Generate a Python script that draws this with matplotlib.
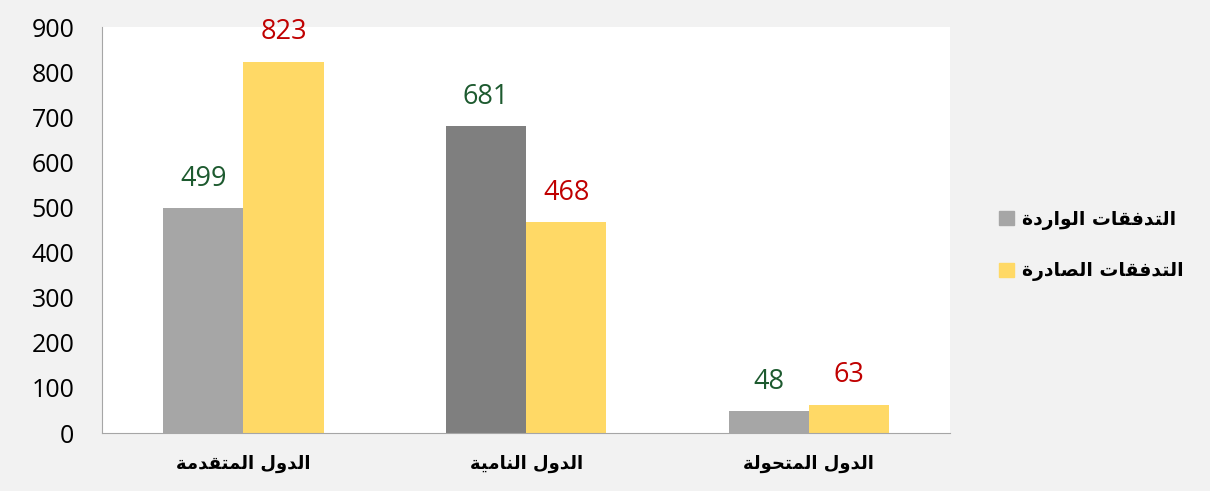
import matplotlib.pyplot as plt
from matplotlib.patches import Patch
import numpy as np

# data
categories = ['الدول المتقدمة', 'الدول النامية', 'الدول المتحولة']
inflows = [499, 681, 48]
outflows = [823, 468, 63]
series_names = ['التدفقات الواردة', 'التدفقات الصادرة']
yticks = [0, 100, 200, 300, 400, 500, 600, 700, 800, 900]

# matplotlib does no arabic shaping, so map letters to presentation forms
FORMS = {
    'ا': ('\uFE8D', '\uFE8E', None, None),
    'ت': ('\uFE95', '\uFE96', '\uFE97', '\uFE98'),
    'ة': ('\uFE93', '\uFE94', None, None),
    'ح': ('\uFEA1', '\uFEA2', '\uFEA3', '\uFEA4'),
    'د': ('\uFEA9', '\uFEAA', None, None),
    'ر': ('\uFEAD', '\uFEAE', None, None),
    'ص': ('\uFEB9', '\uFEBA', '\uFEBB', '\uFEBC'),
    'ف': ('\uFED1', '\uFED2', '\uFED3', '\uFED4'),
    'ق': ('\uFED5', '\uFED6', '\uFED7', '\uFED8'),
    'ل': ('\uFEDD', '\uFEDE', '\uFEDF', '\uFEE0'),
    'م': ('\uFEE1', '\uFEE2', '\uFEE3', '\uFEE4'),
    'ن': ('\uFEE5', '\uFEE6', '\uFEE7', '\uFEE8'),
    'و': ('\uFEED', '\uFEEE', None, None),
    'ي': ('\uFEF1', '\uFEF2', '\uFEF3', '\uFEF4'),
}


def joins_next(c):
    return c in FORMS and FORMS[c][2] is not None


def shape(text):
    out = []
    for i, c in enumerate(text):
        if c not in FORMS:
            out.append(c)
            continue
        prev = text[i - 1] if i > 0 else ''
        nxt = text[i + 1] if i + 1 < len(text) else ''
        from_prev = joins_next(prev)
        to_next = joins_next(c) and nxt in FORMS
        iso, fin, ini, med = FORMS[c]
        if from_prev and to_next:
            out.append(med)
        elif from_prev:
            out.append(fin)
        elif to_next:
            out.append(ini)
        else:
            out.append(iso)
    return ''.join(out)[::-1]


plt.rcParams['font.family'] = ['Open Sans', 'DejaVu Sans']

fig = plt.figure(figsize=(12.1, 4.91), dpi=100)
fig.patch.set_facecolor('#f2f2f2')
ax = fig.add_axes([0.0843, 0.118, 0.701, 0.827])
ax.set_facecolor('white')

x = np.arange(len(categories))
w = 0.284
in_colors = ['#a6a6a6', '#7f7f7f', '#a6a6a6']
ax.bar(x - w / 2, inflows, w, color=in_colors)
ax.bar(x + w / 2, outflows, w, color='#ffd966')

for xi, v in zip(x, inflows):
    ax.annotate(str(v), (xi - w / 2, v), xytext=(0, 11), textcoords='offset points',
                ha='center', va='bottom', fontsize=19.5, color='#1d5a2f')
for xi, v in zip(x, outflows):
    ax.annotate(str(v), (xi + w / 2, v), xytext=(0, 11), textcoords='offset points',
                ha='center', va='bottom', fontsize=19.5, color='#c00000')

ax.set_xlim(-0.5, 2.5)
ax.set_ylim(0, 900)
ax.set_yticks(yticks)
ax.set_yticklabels([str(t) for t in yticks], fontsize=18)
ax.set_xticks(x)
ax.set_xticklabels([shape(c) for c in categories], fontsize=13,
                   fontweight='bold', family='DejaVu Sans')
ax.tick_params(axis='y', length=0, pad=20)
ax.tick_params(axis='x', length=0, pad=16)
for s in ['top', 'right']:
    ax.spines[s].set_visible(False)
for s in ['left', 'bottom']:
    ax.spines[s].set_color('#a6a6a6')

handles = [Patch(color='#a6a6a6'), Patch(color='#ffd966')]
fig.legend(handles, [shape(n) for n in series_names], loc='center left',
           bbox_to_anchor=(0.812, 0.5), frameon=False, handlelength=0.8,
           handleheight=0.8, labelspacing=1.7, handletextpad=0.4,
           prop={'size': 13.5, 'weight': 'bold', 'family': 'DejaVu Sans'})

fig.savefig('out.png', dpi=100, facecolor=fig.get_facecolor())
